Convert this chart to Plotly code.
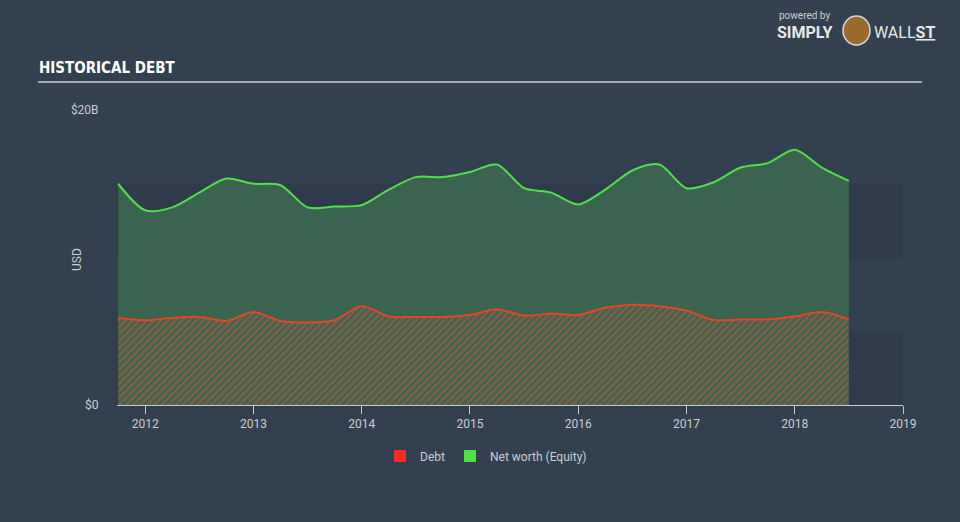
import plotly.graph_objects as go

dates = [2011.75, 2012.0, 2012.25, 2012.5, 2012.75, 2013.0, 2013.25, 2013.5, 2013.75,
         2014.0, 2014.25, 2014.5, 2014.75, 2015.0, 2015.25, 2015.5, 2015.75,
         2016.0, 2016.25, 2016.5, 2016.75, 2017.0, 2017.25, 2017.5, 2017.75,
         2018.0, 2018.25, 2018.5]
debt = [5.9, 5.75, 5.9, 5.97, 5.7, 6.3, 5.7, 5.6, 5.75,
        6.7, 6.0, 5.97, 5.97, 6.1, 6.5, 6.05, 6.2,
        6.1, 6.6, 6.8, 6.7, 6.4, 5.76, 5.8, 5.8,
        6.0, 6.3, 5.8]
equity = [15.0, 13.2, 13.4, 14.4, 15.35, 15.0, 14.9, 13.4, 13.45,
          13.55, 14.6, 15.45, 15.45, 15.8, 16.3, 14.7, 14.4,
          13.6, 14.6, 15.9, 16.3, 14.7, 15.1, 16.1, 16.4,
          17.3, 16.1, 15.2]
year_ticks = [2012, 2013, 2014, 2015, 2016, 2017, 2018, 2019]
y_ticks = [0, 20]
y_tick_labels = ["$0", "$20B"]
bands = [(0, 5), (10, 15)]

BG = "#334050"
BAND = "#2f3b4a"
TXT = "#c9cdd3"

fig = go.Figure()

fig.add_trace(go.Scatter(
    x=dates, y=debt, mode="lines", name="Debt",
    line=dict(color="#e2462b", width=2, shape="spline", smoothing=0.8),
    fill="tozeroy", fillcolor="#3b6450",
    fillpattern=dict(shape="/", fgcolor="#c65a35", bgcolor="#3b6450", size=5, solidity=0.5),
    showlegend=False, hoverinfo="skip"))
fig.add_trace(go.Scatter(
    x=dates, y=equity, mode="lines", name="Net worth (Equity)",
    line=dict(color="#4fe04a", width=2, shape="spline", smoothing=0.8),
    fill="tonexty", fillcolor="#3b6450",
    showlegend=False, hoverinfo="skip"))

# legend-only traces
fig.add_trace(go.Scatter(x=[None], y=[None], mode="markers", name="Debt",
                         marker=dict(symbol="square", size=15, color="#ee2a24")))
fig.add_trace(go.Scatter(x=[None], y=[None], mode="markers", name="Net worth (Equity)",
                         marker=dict(symbol="square", size=15, color="#4fe04a")))

def px_x(p):
    return (p - 117) / 786

def px_y(p):
    return (405 - p) / 295

shapes = []
for lo, hi in bands:
    shapes.append(dict(type="rect", xref="paper", x0=0, x1=1, yref="y", y0=lo, y1=hi,
                       fillcolor=BAND, line=dict(width=0), layer="below"))
shapes.append(dict(type="line", xref="paper", yref="paper",
                   x0=px_x(38), x1=px_x(922), y0=px_y(82), y1=px_y(82),
                   line=dict(color="#a3abb4", width=2)))
shapes.append(dict(type="circle", xref="paper", yref="paper",
                   x0=px_x(843), x1=px_x(870), y0=px_y(45), y1=px_y(16),
                   fillcolor="#9a6a2f", line=dict(color="#d9d9d9", width=1.5)))

annotations = [
    dict(text="<b>HISTORICAL DEBT</b>", xref="paper", yref="paper",
         x=px_x(37), y=px_y(68), xanchor="left", yanchor="middle", showarrow=False,
         font=dict(family="DejaVu Sans Condensed, Liberation Sans Narrow, Arial Narrow", size=15, color="#ffffff")),
    dict(text="USD", xref="paper", yref="paper", x=px_x(77), y=px_y(260),
         textangle=-90, showarrow=False, xanchor="center", yanchor="middle",
         font=dict(family="Roboto, Noto Sans", size=12, color=TXT)),
    dict(text="powered by", xref="paper", yref="paper", x=px_x(777), y=px_y(16),
         xanchor="left", yanchor="middle", showarrow=False,
         font=dict(family="Roboto, Noto Sans", size=10, color="#c9cdd3")),
    dict(text="<b>SIMPLY</b>", xref="paper", yref="paper", x=px_x(775), y=px_y(33),
         xanchor="left", yanchor="middle", showarrow=False,
         font=dict(family="Roboto, Noto Sans", size=16, color="#e6e8eb")),
    dict(text="WALL<b><u>ST</u></b>", xref="paper", yref="paper", x=px_x(872), y=px_y(33),
         xanchor="left", yanchor="middle", showarrow=False,
         font=dict(family="Roboto, Noto Sans", size=16, color="#e6e8eb")),
]

fig.update_layout(
    width=960, height=522,
    margin=dict(l=117, r=57, t=110, b=117),
    paper_bgcolor=BG, plot_bgcolor=BG,
    shapes=shapes, annotations=annotations,
    showlegend=True,
    legend=dict(orientation="h", x=px_x(380), xanchor="left", y=px_y(456), yanchor="middle",
                traceorder="normal",
                font=dict(family="Roboto, Noto Sans", size=12, color=TXT),
                bgcolor="rgba(0,0,0,0)", itemsizing="constant"),
    xaxis=dict(range=[2011.74, 2019.0], tickvals=year_ticks, ticktext=[str(y) for y in year_ticks],
               showgrid=False, zeroline=False, showline=True, linecolor="#c4cbd3", linewidth=1,
               ticks="outside", ticklen=8, tickcolor="#c4cbd3", tickwidth=1,
               tickfont=dict(family="Roboto, Noto Sans", size=12, color=TXT), fixedrange=True),
    yaxis=dict(range=[0, 20], tickvals=y_ticks, ticktext=y_tick_labels,
               showgrid=False, zeroline=False, showline=False,
               ticks="outside", ticklen=15, tickcolor="rgba(0,0,0,0)",
               tickfont=dict(family="Roboto, Noto Sans", size=12, color=TXT), fixedrange=True),
)

fig.write_html("out.html")
